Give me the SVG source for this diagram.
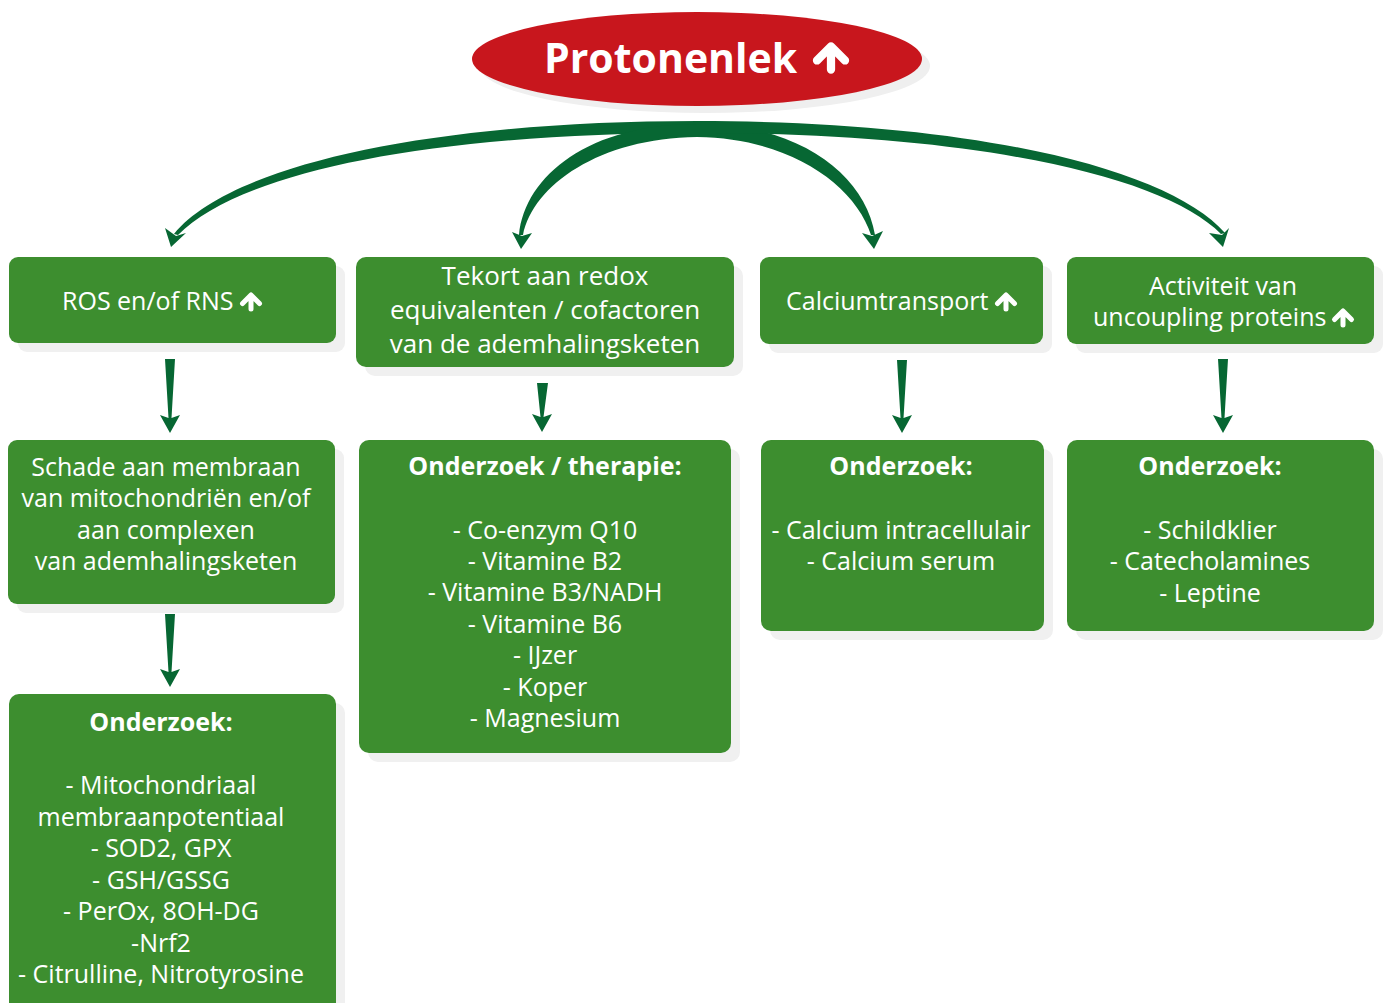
<svg xmlns="http://www.w3.org/2000/svg" width="1383" height="1003" viewBox="0 0 1383 1003">
<style>
.box{fill:#3d8e2f}
.sh{fill:#f0f0f0}
.t{font-family:"Open Sans","Liberation Sans",sans-serif;font-size:25px;fill:#ffffff;text-anchor:middle}
.s{text-anchor:start}
.b{font-weight:bold}
.con{fill:#076733}
.ico{fill:none;stroke:#ffffff;stroke-width:5;stroke-linecap:round;stroke-linejoin:round}
</style>
<defs>
<path id="up" d="M-8.5,1.5 L0,-7 L8.5,1.5 M0,-6 L0,7"/>
</defs>
<rect width="1383" height="1003" fill="#ffffff"/>

<g id="connectors">
  <!-- curved tapered connectors from the title -->
  <path class="con" d="M697,121 C430,121 230,165 174,234 L178,235 C240,172 430,133 697,133 Z"/>
  <polygon class="con" points="171,247 165,228 176,236 186,233"/>
  <path class="con" d="M697,124 C590,124 525,175 519,235 L523,235 C533,185 600,138 697,137 Z"/>
  <polygon class="con" points="521,249 512,232 522,236 532,233"/>
  <path class="con" d="M697,124 C800,124 865,175 875,235 L871,235 C855,185 790,138 697,137 Z"/>
  <polygon class="con" points="874,249 862,233 872,236 883,231"/>
  <path class="con" d="M697,121 C980,121 1170,170 1225,233 L1221,234 C1165,177 980,133 697,133 Z"/>
  <polygon class="con" points="1223,247 1209,233 1222,235 1229,228"/>
  <!-- vertical tapered arrows -->
  <polygon class="con" points="165,359 175,359 171.5,418 180,415 170,433 160,415 168.5,418"/>
  <polygon class="con" points="165,614 175,614 171.5,672 180,669 170,687 160,669 168.5,672"/>
  <polygon class="con" points="537,383 548,383 543.5,417 552,414 542,432 532,414 540.5,417"/>
  <polygon class="con" points="897,360 907,360 903.5,418 912,415 902,433 892,415 900.5,418"/>
  <polygon class="con" points="1218,359 1228,359 1224.5,418 1233,415 1223,433 1213,415 1221.5,418"/>
</g>

<g id="title">
  <ellipse cx="705" cy="66" rx="225" ry="47" fill="#efefef"/>
  <ellipse cx="697" cy="59" rx="225" ry="47" fill="#c8161d"/>
  <text class="t b s" x="544" y="73" style="font-size:41px">Protonenlek</text>
  <use href="#up" class="ico" transform="translate(831,58) scale(1.65)"/>
</g>

<g id="n-ros">
  <rect class="sh" x="18" y="266" width="327" height="86" rx="9"/>
  <rect class="box" x="9" y="257" width="327" height="86" rx="9"/>
  <text class="t s" x="62" y="310">ROS en/of RNS</text>
  <use href="#up" class="ico" transform="translate(251,302)"/>
</g>

<g id="n-tekort">
  <rect class="sh" x="365" y="266" width="378" height="110" rx="10"/>
  <rect class="box" x="356" y="257" width="378" height="110" rx="10"/>
  <text class="t" style="font-size:26px" x="545" y="285">Tekort aan redox</text>
  <text class="t" style="font-size:26px" x="545" y="319">equivalenten / cofactoren</text>
  <text class="t" style="font-size:26px" x="545" y="353">van de ademhalingsketen</text>
</g>

<g id="n-calcium">
  <rect class="sh" x="769" y="266" width="283" height="87" rx="9"/>
  <rect class="box" x="760" y="257" width="283" height="87" rx="9"/>
  <text class="t s" x="786" y="310">Calciumtransport</text>
  <use href="#up" class="ico" transform="translate(1006,302)"/>
</g>

<g id="n-activiteit">
  <rect class="sh" x="1076" y="266" width="307" height="87" rx="9"/>
  <rect class="box" x="1067" y="257" width="307" height="87" rx="9"/>
  <text class="t" x="1223" y="295">Activiteit van</text>
  <text class="t s" x="1093" y="326">uncoupling proteins</text>
  <use href="#up" class="ico" transform="translate(1343,318)"/>
</g>

<g id="n-schade">
  <rect class="sh" x="17" y="449" width="327" height="164" rx="9"/>
  <rect class="box" x="8" y="440" width="327" height="164" rx="9"/>
  <text class="t" x="166" y="476">Schade aan membraan</text>
  <text class="t" x="166" y="507">van mitochondriën en/of</text>
  <text class="t" x="166" y="539">aan complexen</text>
  <text class="t" x="166" y="570">van ademhalingsketen</text>
</g>

<g id="n-therapie">
  <rect class="sh" x="368" y="449" width="372" height="313" rx="10"/>
  <rect class="box" x="359" y="440" width="372" height="313" rx="10"/>
  <text class="t b" x="545" y="475">Onderzoek / therapie:</text>
  <text class="t" x="545" y="539">- Co-enzym Q10</text>
  <text class="t" x="545" y="570">- Vitamine B2</text>
  <text class="t" x="545" y="601">- Vitamine B3/NADH</text>
  <text class="t" x="545" y="633">- Vitamine B6</text>
  <text class="t" x="545" y="664">- IJzer</text>
  <text class="t" x="545" y="696">- Koper</text>
  <text class="t" x="545" y="727">- Magnesium</text>
</g>

<g id="n-calcium-onderzoek">
  <rect class="sh" x="770" y="449" width="283" height="191" rx="10"/>
  <rect class="box" x="761" y="440" width="283" height="191" rx="10"/>
  <text class="t b" x="901" y="475">Onderzoek:</text>
  <text class="t" x="901" y="539">- Calcium intracellulair</text>
  <text class="t" x="901" y="570">- Calcium serum</text>
</g>

<g id="n-schildklier">
  <rect class="sh" x="1076" y="449" width="307" height="191" rx="10"/>
  <rect class="box" x="1067" y="440" width="307" height="191" rx="10"/>
  <text class="t b" x="1210" y="475">Onderzoek:</text>
  <text class="t" x="1210" y="539">- Schildklier</text>
  <text class="t" x="1210" y="570">- Catecholamines</text>
  <text class="t" x="1210" y="602">- Leptine</text>
</g>

<g id="n-mito">
  <rect class="sh" x="18" y="703" width="327" height="320" rx="10"/>
  <rect class="box" x="9" y="694" width="327" height="320" rx="10"/>
  <text class="t b" x="161" y="731">Onderzoek:</text>
  <text class="t" x="161" y="794">- Mitochondriaal</text>
  <text class="t" x="161" y="826">membraanpotentiaal</text>
  <text class="t" x="161" y="857">- SOD2, GPX</text>
  <text class="t" x="161" y="889">- GSH/GSSG</text>
  <text class="t" x="161" y="920">- PerOx, 8OH-DG</text>
  <text class="t" x="161" y="952">-Nrf2</text>
  <text class="t" x="161" y="983">- Citrulline, Nitrotyrosine</text>
</g>
</svg>
